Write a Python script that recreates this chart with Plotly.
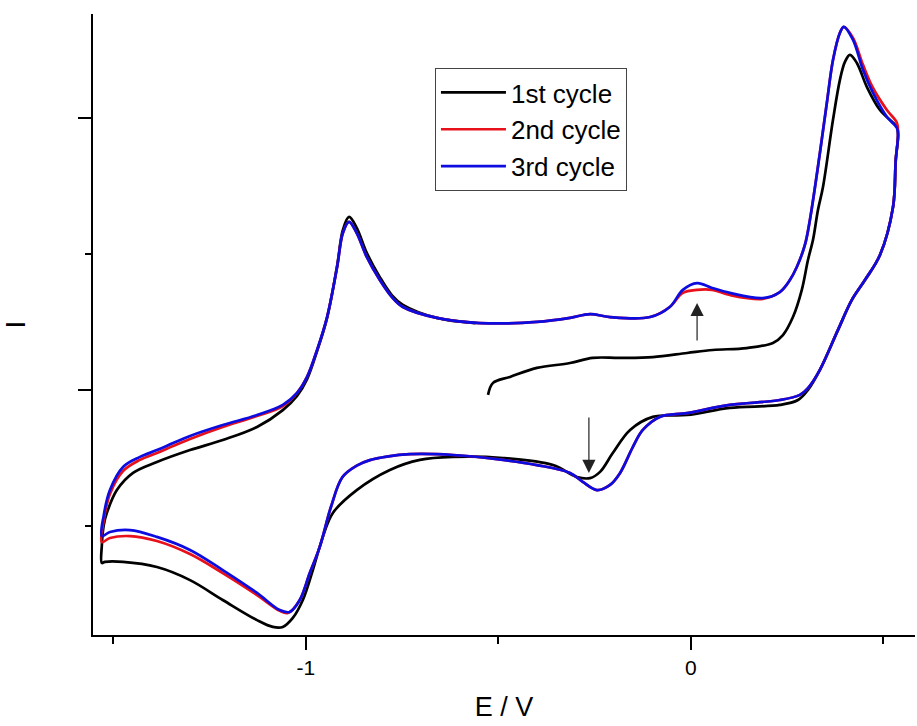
import plotly.graph_objects as go

# ---------------- data (E in V, I in arbitrary units) ----------------
# 1st cycle: starts at -0.527 V, anodic to +0.537 V, cathodic to -1.53 V, back anodic
E1 = [-0.527, -0.514, -0.470, -0.400, -0.314, -0.255, -0.184, -0.099, -0.010, 0.057,
      0.145, 0.213, 0.239, 0.265, 0.288, 0.304, 0.317, 0.330, 0.343, 0.369,
      0.387, 0.400, 0.413, 0.431, 0.457, 0.491, 0.525, 0.535,
      0.538, 0.532, 0.525, 0.491, 0.452, 0.418, 0.382, 0.335, 0.304, 0.278,
      0.231, 0.101, -0.010, -0.099, -0.158, -0.203, -0.236, -0.262, -0.296, -0.358,
      -0.488, -0.618, -0.704, -0.782, -0.868, -0.930, -0.956, -0.982, -1.008, -1.034,
      -1.060, -1.086, -1.127, -1.216, -1.301, -1.387, -1.475, -1.522, -1.530,
      -1.530, -1.525, -1.517, -1.491, -1.449, -1.387, -1.301, -1.216, -1.127, -1.060,
      -1.023, -0.997, -0.971, -0.945, -0.919, -0.904, -0.888, -0.868, -0.842, -0.808,
      -0.777, -0.748, -0.660, -0.560]
I1 = [-0.18, 0.26, 0.48, 0.81, 0.99, 1.18, 1.18, 1.21, 1.36, 1.47,
      1.54, 1.73, 2.02, 2.68, 3.68, 4.78, 5.51, 6.62, 7.46, 9.93,
      11.40, 12.06, 12.32, 12.02, 11.14, 10.29, 9.82, 9.67,
      9.38, 8.46, 6.73, 4.96, 4.04, 3.31, 2.21, 0.74, 0.00, -0.37,
      -0.55, -0.66, -0.92, -0.99, -1.47, -2.32, -3.01, -3.24, -3.20, -2.76,
      -2.50, -2.46, -2.57, -2.94, -3.68, -4.52, -5.40, -6.62, -7.72, -8.38,
      -8.71, -8.71, -8.46, -7.72, -6.99, -6.51, -6.32, -6.32, -6.36,
      -5.70, -4.96, -4.52, -3.68, -3.05, -2.65, -2.21, -1.84, -1.36, -0.74,
      -0.22, 0.40, 1.43, 2.65, 4.56, 5.88, 6.36, 5.96, 5.04, 4.15,
      3.49, 3.13, 2.65, 2.46]

# 2nd cycle: from -1.53 V anodic to +0.537 V, then cathodic back to -1.53 V
E2 = [-1.530, -1.525, -1.509, -1.475, -1.431, -1.387, -1.345, -1.301, -1.216, -1.127,
      -1.060, -1.023, -0.997, -0.971, -0.945, -0.919, -0.904, -0.888, -0.868, -0.842,
      -0.808, -0.777, -0.748, -0.660, -0.548, -0.400, -0.314, -0.262, -0.210, -0.106,
      -0.055, -0.021, 0.016, 0.055, 0.101, 0.187, 0.231, 0.257, 0.275, 0.296,
      0.309, 0.335, 0.353, 0.369, 0.387, 0.397, 0.421, 0.447, 0.473, 0.509, 0.535,
      0.538, 0.532, 0.525, 0.491, 0.452, 0.418, 0.382, 0.335, 0.304, 0.283,
      0.231, 0.101, -0.010, -0.081, -0.125, -0.151, -0.184, -0.210, -0.244, -0.281,
      -0.314, -0.400, -0.488, -0.618, -0.730, -0.790, -0.834, -0.868, -0.905, -0.935,
      -0.964, -0.990, -1.016, -1.047, -1.068, -1.127, -1.216, -1.301, -1.387, -1.457,
      -1.509, -1.530]
I2 = [-5.59, -4.78, -3.82, -2.98, -2.57, -2.32, -2.06, -1.80, -1.36, -0.96,
      -0.59, -0.11, 0.48, 1.47, 2.68, 4.52, 5.77, 6.18, 5.77, 4.89,
      4.04, 3.42, 3.05, 2.65, 2.46, 2.50, 2.65, 2.79, 2.68, 2.68,
      3.05, 3.57, 3.68, 3.68, 3.49, 3.35, 3.60, 4.04, 4.52, 5.33,
      6.25, 8.71, 10.55, 12.13, 13.13, 13.35, 12.94, 11.95, 11.10, 10.29, 9.82,
      9.38, 8.46, 6.73, 4.96, 4.04, 3.31, 2.21, 0.74, 0.07, -0.18,
      -0.37, -0.55, -0.85, -0.99, -1.47, -2.10, -3.05, -3.49, -3.68, -3.38,
      -3.05, -2.76, -2.57, -2.39, -2.36, -2.45, -2.58, -2.78, -3.20, -4.30,
      -5.77, -6.73, -7.72, -8.20, -8.12, -7.54, -6.73, -6.03, -5.55, -5.37,
      -5.44, -5.59]

# 3rd cycle
E3 = [-1.530, -1.525, -1.509, -1.475, -1.431, -1.387, -1.345, -1.301, -1.216, -1.127,
      -1.060, -1.023, -0.997, -0.971, -0.945, -0.919, -0.904, -0.888, -0.868, -0.842,
      -0.808, -0.777, -0.748, -0.660, -0.548, -0.400, -0.314, -0.262, -0.210, -0.106,
      -0.055, -0.021, 0.016, 0.055, 0.101, 0.187, 0.231, 0.257, 0.275, 0.296,
      0.309, 0.335, 0.353, 0.369, 0.387, 0.397, 0.421, 0.447, 0.473, 0.509, 0.535,
      0.538, 0.532, 0.525, 0.491, 0.452, 0.418, 0.382, 0.335, 0.304, 0.283,
      0.231, 0.101, -0.010, -0.081, -0.125, -0.151, -0.184, -0.210, -0.244, -0.281,
      -0.314, -0.400, -0.488, -0.618, -0.730, -0.790, -0.834, -0.868, -0.905, -0.935,
      -0.964, -0.990, -1.016, -1.042, -1.068, -1.127, -1.216, -1.301, -1.387, -1.457,
      -1.509, -1.530]
I3 = [-5.37, -4.60, -3.68, -2.83, -2.46, -2.21, -1.95, -1.69, -1.29, -0.92,
      -0.55, -0.11, 0.48, 1.47, 2.68, 4.52, 5.77, 6.18, 5.77, 4.89,
      4.04, 3.42, 3.05, 2.65, 2.46, 2.50, 2.65, 2.79, 2.68, 2.68,
      3.05, 3.68, 3.93, 3.75, 3.57, 3.38, 3.60, 4.04, 4.52, 5.33,
      6.25, 8.71, 10.55, 12.13, 13.13, 13.35, 12.87, 11.76, 10.92, 10.04, 9.63,
      9.38, 8.46, 6.73, 4.96, 4.04, 3.31, 2.21, 0.74, 0.07, -0.18,
      -0.37, -0.55, -0.85, -0.99, -1.47, -2.10, -3.05, -3.49, -3.68, -3.38,
      -3.05, -2.76, -2.57, -2.39, -2.36, -2.45, -2.58, -2.78, -3.20, -4.30,
      -5.77, -6.73, -7.72, -8.16, -8.09, -7.46, -6.62, -5.88, -5.40, -5.15,
      -5.22, -5.37]

series_names = ["1st cycle", "2nd cycle", "3rd cycle"]
series_colors = ["#000000", "#e8101a", "#0c0ce0"]

# arrows: (E, I tip, I tail)
arrow_E = [-0.265, 0.016]
arrow_tip = [-3.05, 3.20]
arrow_tail = [-0.96, 1.76]

x_ticks = [-1, 0]
x_ticklabels = ["-1", "0"]

# ---------------- figure ----------------
fig = go.Figure()
for E, I, name, col in zip([E1, E2, E3], [I1, I2, I3], series_names, series_colors):
    fig.add_trace(go.Scatter(x=E, y=I, mode="lines", name=name,
                             line=dict(color=col, width=2.7, shape="spline", smoothing=1.0)))

for e, tip, tail in zip(arrow_E, arrow_tip, arrow_tail):
    fig.add_annotation(x=e, y=tip, ax=e, ay=tail, xref="x", yref="y", axref="x", ayref="y",
                       text="", showarrow=True, arrowhead=2, arrowsize=2.2,
                       arrowwidth=1.2, arrowcolor="#222222")

fig.update_layout(
    width=917, height=726,
    margin=dict(l=93, r=2, t=14, b=91),
    paper_bgcolor="white", plot_bgcolor="white",
    font=dict(family="Liberation Sans, Arial, sans-serif", color="black"),
    showlegend=True,
    legend=dict(x=0.416, y=0.913, xanchor="left", yanchor="top",
                bordercolor="#444444", borderwidth=1, bgcolor="white",
                font=dict(size=26), itemwidth=65, tracegroupgap=0),
)
fig.update_xaxes(range=[-1.553, 0.582], showgrid=False, zeroline=False,
                 showline=True, linecolor="black", linewidth=2,
                 ticks="outside", ticklen=13, tickwidth=2, tickcolor="black",
                 tickvals=x_ticks, ticktext=x_ticklabels, tickfont=dict(size=21),
                 minor=dict(dtick=0.5, tick0=0, ticks="outside", ticklen=7, tickwidth=2, tickcolor="black"),
                 title=dict(text="E / V", font=dict(size=27), standoff=19))
fig.update_yaxes(range=[-9.007, 13.82], showgrid=False, zeroline=False,
                 showline=True, linecolor="black", linewidth=2,
                 ticks="outside", ticklen=13, tickwidth=2, tickcolor="black",
                 tick0=0, dtick=10, showticklabels=False,
                 minor=dict(dtick=5, tick0=0, ticks="outside", ticklen=6, tickwidth=2, tickcolor="black"),
                 title=dict(text="I", font=dict(size=28), standoff=45))

fig.write_html("out.html")
